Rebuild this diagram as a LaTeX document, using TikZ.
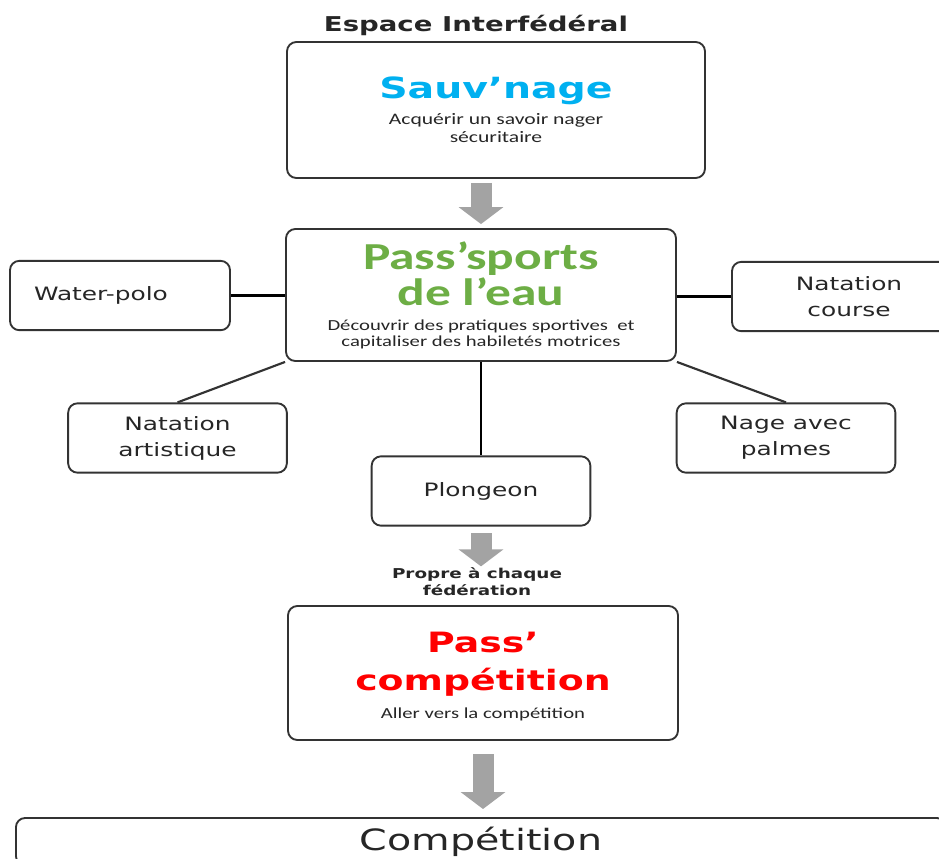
\documentclass[tikz,border=0pt]{standalone}
\usepackage{fontspec}
\setmainfont{DejaVu Sans}[FakeStretch=1.35]
\newfontfamily\calfont{Carlito}[FakeStretch=1.35]
\usetikzlibrary{arrows.meta}
\definecolor{SauvBlue}{HTML}{00B0F0}
\definecolor{PassGreen}{HTML}{6DAE45}
\definecolor{CompRed}{HTML}{FF0000}
\definecolor{ArrowGrey}{HTML}{A3A3A3}
\definecolor{BoxLine}{HTML}{333333}
\definecolor{TextDark}{HTML}{262626}

\begin{document}
\begin{tikzpicture}[
    x=0.75pt, y=-0.75pt,
    box/.style={draw=BoxLine, line width=1.4pt, rounded corners=7pt, fill=white,
      align=center, text=TextDark, inner sep=2pt},
    sport/.style={box, minimum width=164pt, minimum height=52pt,
      font=\fontsize{13.8}{19.5}\selectfont},
    link/.style={draw=black, line width=2.2pt},
    thinlink/.style={draw=BoxLine, line width=1.6pt},
    bigarrow/.style={draw=ArrowGrey, line width=15.75pt,
      -{Triangle[width=33pt,length=12.75pt]}}
  ]
  \fill[white] (0,0) rectangle (939,858);
  \useasboundingbox (0,0) rectangle (939,858);

  \node[font=\bfseries\fontsize{15.3}{18}\selectfont, text=TextDark] (title) at (476,25) {Espace Interfédéral};

  \node[
    box,
    minimum width=313.5pt,
    minimum height=102pt,
    font=\calfont\fontsize{12}{13.5}\selectfont
  ] (sauv) at (496,110) {
    {\rmfamily\bfseries\fontsize{21.9}{26}\selectfont\color{SauvBlue}Sauv’nage}\\[6pt]
    Acquérir un savoir nager\\
    sécuritaire
  };

  \node[
    box,
    minimum width=292.5pt,
    minimum height=99pt,
    font=\calfont\fontsize{11.5}{12}\selectfont
  ] (pass) at (481,295) {
    {\bfseries\fontsize{28.6}{28}\selectfont\color{PassGreen}Pass’sports}\\[1pt]
    {\bfseries\fontsize{28.6}{28}\selectfont\color{PassGreen}de l’eau}\\[6.5pt]
    Découvrir des pratiques sportives\ \ et\\
    capitaliser des habiletés motrices
  };

  % disciplines
  \node[sport, text width=129pt, align=left, inner xsep=18pt, minimum width=0pt] (water) at (120,295.5) {Water-polo};
  \node[sport, minimum width=175.5pt] (ncourse) at (849,296.5) {Natation\\course};
  \node[sport] (natart) at (177.5,438) {Natation\\artistique};
  \node[sport] (plong) at (481,491) {Plongeon};
  \node[sport] (nage) at (786,438) {Nage avec\\palmes};

  \draw[link] (water.east) -- (water.east -| pass.west);
  \draw[link] (pass.east |- ncourse.west) -- (ncourse.west);
  \draw[link] (pass.south) -- (plong.north);
  \draw[thinlink] (pass.south west) -- (natart.north);
  \draw[thinlink] (pass.south east) -- (nage.north);

  \node[
    font=\bfseries\fontsize{10.2}{12.75}\selectfont,
    text=TextDark,
    align=center,
    inner sep=1pt
  ] (prop) at (477,582) {Propre à chaque\\fédération};

  \node[
    box,
    minimum width=292.5pt,
    minimum height=100.5pt,
    font=\calfont\fontsize{11.5}{12}\selectfont
  ] (passcomp) at (483,673) {
    {\rmfamily\bfseries\fontsize{21}{24}\selectfont\color{CompRed}\rule{0pt}{20pt}Pass’}\\[10.5pt]
    {\rmfamily\bfseries\fontsize{21}{24}\selectfont\color{CompRed}compétition}\\[7.5pt]
    Aller vers la compétition
  };

  \node[
    box,
    anchor=north west,
    minimum width=697.5pt,
    minimum height=35.5pt,
    font=\fontsize{22}{26}\selectfont
  ] (comp) at (15,817) {Compétition};

  % grey arrows
  \draw[bigarrow, shorten <=3pt, shorten >=3pt] (pass.north |- sauv.south) -- (pass.north);
  \draw[bigarrow, shorten <=5pt] (plong.south) -- (plong.south |- prop.north);
  \draw[bigarrow, shorten <=10pt, shorten >=6pt] (passcomp.south) -- (passcomp.south |- comp.north);
\end{tikzpicture}
\end{document}
